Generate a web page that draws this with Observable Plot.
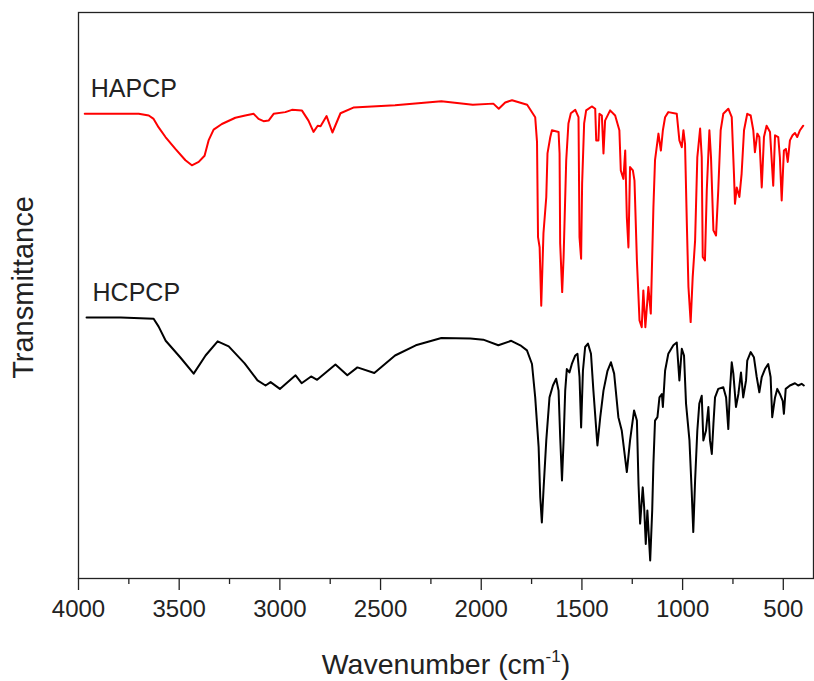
<!DOCTYPE html>
<html><head><meta charset="utf-8">
<script src="https://cdn.jsdelivr.net/npm/d3@7"></script>
<script src="https://cdn.jsdelivr.net/npm/@observablehq/plot@0.6"></script>
<style>body{margin:0;background:#fff} svg{display:block}</style>
</head><body><div id="chart"></div>
<script>
const seriesNames = ["HAPCP", "HCPCP"];

const redWavenumber = [3969,3701,3651,3627,3602,3568,3519,3469,3437,3403,
3374,3354,3329,3288,3221,3172,3130,3106,3081,3056,
3031,2973,2940,2891,2858,2833,2812,2798,2768,2739,
2699,2635,2428,2198,2042,1940,1913,1881,1847,1772,
1732,1723,1718,1710,1702,1691,1677,1671,1657,1649,
1616,1611,1608,1598,1591,1578,1567,1555,1533,1517,
1512,1504,1499,1489,1479,1451,1434,1429,1418,1413,
1401,1393,1385,1360,1335,1314,1307,1294,1285,1277,
1269,1261,1247,1239,1227,1214,1203,1195,1185,1170,
1158,1145,1137,1120,1108,1098,1087,1071,1029,1016,
1004,996,988,979,971,960,950,938,927,913,
905,900,889,880,867,859,847,834,823,811,
798,773,756,745,740,731,718,707,695,679,
662,649,641,629,619,607,596,583,566,550,
541,525,517,508,497,487,478,467,454,442,
431,417,401];
const redTransmittance = [82.1,82.1,81.8,81.2,79.7,78.0,75.9,73.9,73.0,73.6,
74.7,77.4,79.3,80.3,81.4,81.8,82.1,81.2,80.8,80.9,
82.1,82.4,82.8,82.7,80.9,78.9,80.0,79.9,81.7,78.8,
82.2,83.2,83.6,84.3,83.7,83.9,83.0,84.1,84.5,83.7,
81.5,77.1,60.3,58.5,48.2,61.0,67.4,75.1,78.0,79.2,
78.9,75.1,59.2,50.6,56.8,73.9,80.4,82.2,82.8,81.5,
60.3,56.5,69.8,80.4,82.7,83.4,83.0,77.4,77.4,82.1,
81.8,75.1,80.9,82.7,81.8,79.2,72.1,70.6,75.6,63.8,
58.5,72.7,72.1,70.3,56.2,45.6,44.4,50.9,44.4,51.5,
46.8,65.6,73.9,78.6,75.6,79.2,81.5,82.4,82.1,77.4,
76.2,79.2,76.8,62.7,51.5,45.3,53.2,59.7,74.4,79.5,
74.4,56.8,56.2,68.6,79.2,74.4,61.5,60.6,68.6,79.2,
82.1,83.0,81.5,71.5,66.2,69.1,67.4,71.5,79.2,82.1,
81.8,79.2,75.3,78.6,78.0,69.1,78.0,80.0,78.9,69.4,
78.3,78.0,74.4,66.8,75.6,75.9,73.6,77.4,78.3,78.7,
78.0,79.2,80.0];

const blackWavenumber = [3960,3790,3627,3602,3567,3493,3428,3369,3309,3254,
3175,3111,3071,3046,3000,2922,2892,2845,2815,2724,
2665,2615,2531,2428,2325,2198,2054,1990,1915,1851,
1806,1773,1748,1732,1715,1707,1699,1691,1677,1661,
1644,1628,1616,1608,1599,1591,1583,1575,1562,1550,
1533,1522,1512,1504,1495,1484,1470,1455,1443,1423,
1409,1393,1373,1356,1340,1319,1302,1277,1261,1241,
1227,1219,1211,1198,1191,1183,1175,1161,1151,1145,
1137,1125,1115,1103,1098,1087,1071,1046,1029,1016,
1004,993,983,966,955,947,938,927,917,905,
897,884,872,864,855,847,839,823,798,784,
773,765,756,748,735,723,710,699,685,679,
662,646,632,619,607,591,575,563,555,541,
530,517,503,497,488,467,442,426,409,398];
const blackTransmittance = [46.1,46.1,45.9,44.5,42.0,39.0,36.2,39.4,41.9,41.0,
38.0,35.0,34.1,34.7,33.5,35.9,34.5,35.7,35.1,37.8,
35.9,37.3,36.3,39.4,41.2,42.5,42.4,42.2,41.2,42.0,
41.2,40.3,37.9,32.0,23.2,14.4,9.9,15.5,24.4,32.0,
34.1,35.3,33.2,25.0,17.3,24.4,33.2,37.0,36.4,37.9,
39.4,39.7,35.6,26.7,36.7,40.9,41.5,39.7,33.2,23.5,
28.5,33.2,36.7,38.2,36.2,28.5,26.1,18.8,24.4,29.7,
27.9,16.7,9.7,16.1,12.6,6.1,12.0,3.2,12.0,20.3,
27.9,28.5,32.0,32.6,30.3,36.7,39.7,41.2,41.7,35.0,
40.6,39.4,30.9,24.4,15.5,8.2,17.3,26.1,30.9,32.3,
24.4,26.1,30.3,24.4,22.0,27.3,32.0,33.5,33.8,32.0,
26.4,33.2,38.2,36.2,30.3,32.6,36.4,32.0,35.0,38.5,
40.0,39.1,35.6,32.9,35.6,37.0,37.9,35.6,28.5,32.0,
33.5,32.6,31.4,29.1,33.5,34.1,34.5,34.1,34.4,34.1];

const majorTicks = [4000, 3500, 3000, 2500, 2000, 1500, 1000, 500];
const minorTicks = [3750, 3250, 2750, 2250, 1750, 1250, 750];
const xLabel = "Wavenumber (cm-1)";
const yLabel = "Transmittance";

const rows = [
  ...redWavenumber.map((w, i) => ({sample: seriesNames[0], wavenumber: w, transmittance: redTransmittance[i]})),
  ...blackWavenumber.map((w, i) => ({sample: seriesNames[1], wavenumber: w, transmittance: blackTransmittance[i]}))
];
const starts = seriesNames.map(s => rows.find(r => r.sample === s));

const font = "'Liberation Sans', Arial, sans-serif";
const chart = Plot.plot({
  width: 814, height: 681,
  marginLeft: 78, marginRight: 1, marginTop: 12, marginBottom: 103,
  style: {fontFamily: font, background: "#fff", color: "#222"},
  x: {domain: [4000, 350], axis: null},
  y: {domain: [0, 100], axis: null},
  color: {domain: seriesNames, range: ["#ff0000", "#000000"]},
  marks: [
    Plot.line(rows, {x: "wavenumber", y: "transmittance", z: "sample", stroke: "sample", strokeWidth: 2, strokeLinejoin: "round"}),
    Plot.frame({stroke: "#222", strokeWidth: 1.3}),
    Plot.axisX({ticks: majorTicks, tickSize: 12, tickPadding: 9, fontSize: 24, tickFormat: d => String(d), label: null, color: "#222", strokeWidth: 1.3}),
    Plot.axisX({ticks: minorTicks, tickSize: 6, tickFormat: () => "", label: null, color: "#222", strokeWidth: 1.3}),
    Plot.text(starts, {x: "wavenumber", y: "transmittance", text: "sample", textAnchor: "start", lineAnchor: "bottom", dx: 6, dy: -17, fontSize: 25, fill: "#222"}),
    Plot.text([xLabel], {text: d => d, frameAnchor: "bottom", textAnchor: "middle", lineAnchor: "bottom", dy: 95, fontSize: 28.5, fill: "#222"}),
    Plot.text([yLabel], {text: d => d, frameAnchor: "left", textAnchor: "middle", lineAnchor: "middle", rotate: -90, dx: -55, dy: -8, fontSize: 29, fill: "#222"})
  ]
});
document.getElementById("chart").appendChild(chart);

// superscript the "-1" in the x-axis label
for (const t of chart.querySelectorAll("text")) {
  if (t.textContent === xLabel) {
    t.textContent = "";
    const ns = "http://www.w3.org/2000/svg";
    const a = document.createElementNS(ns, "tspan"); a.textContent = "Wavenumber (cm";
    const b = document.createElementNS(ns, "tspan"); b.textContent = "-1";
    b.setAttribute("font-size", "17"); b.setAttribute("dy", "-12");
    const c = document.createElementNS(ns, "tspan"); c.textContent = ")";
    c.setAttribute("dy", "12");
    t.append(a, b, c);
  }
}
</script>
</body></html>
